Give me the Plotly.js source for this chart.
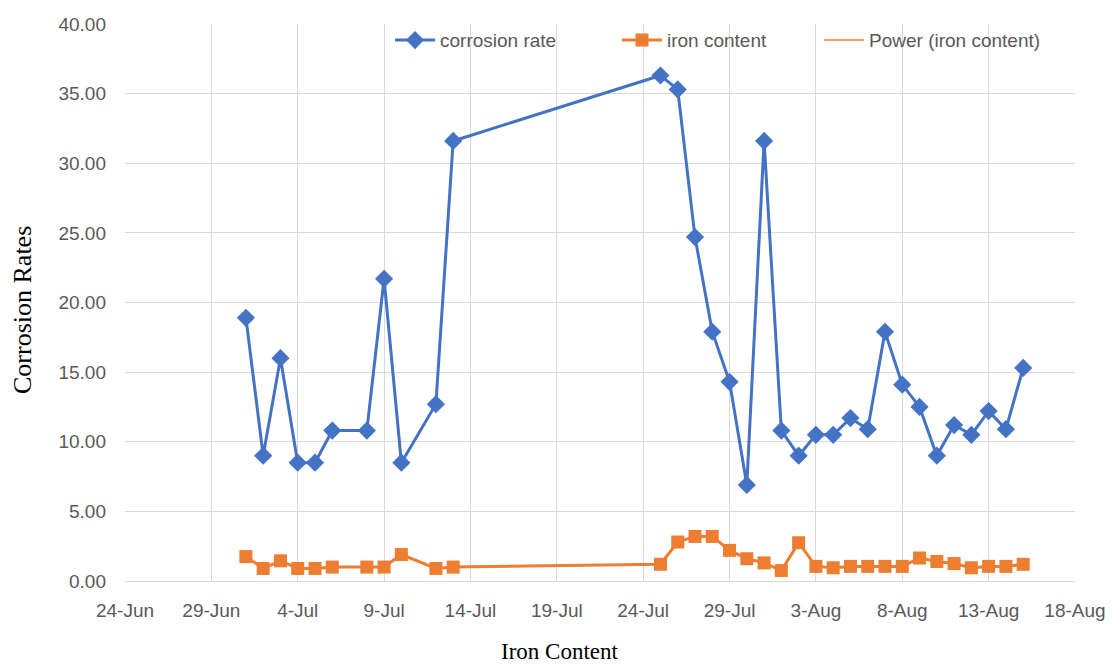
<!DOCTYPE html>
<html>
<head>
<meta charset="utf-8">
<script src="https://cdn.plot.ly/plotly-3.0.1.min.js"></script>
<style>html,body{margin:0;padding:0;background:#fff;}#chart{width:1115px;height:664px;}</style>
</head>
<body>
<div id="chart"></div>
<script>
const corrosionDates = ['2019-07-01','2019-07-02','2019-07-03','2019-07-04','2019-07-05','2019-07-06','2019-07-08','2019-07-09','2019-07-10','2019-07-12','2019-07-13','2019-07-25','2019-07-26','2019-07-27','2019-07-28','2019-07-29','2019-07-30','2019-07-31','2019-08-01','2019-08-02','2019-08-03','2019-08-04','2019-08-05','2019-08-06','2019-08-07','2019-08-08','2019-08-09','2019-08-10','2019-08-11','2019-08-12','2019-08-13','2019-08-14','2019-08-15'];
const corrosionRate = [18.9,9.0,16.0,8.5,8.5,10.8,10.8,21.7,8.5,12.7,31.6,36.3,35.3,24.7,17.9,14.3,6.9,31.6,10.8,9.0,10.5,10.5,11.7,10.9,17.9,14.1,12.5,9.0,11.2,10.5,12.2,10.9,15.3];
const ironDates = corrosionDates;
const ironContent = [1.75,0.9,1.45,0.9,0.9,1.0,1.0,1.0,1.9,0.9,1.0,1.2,2.8,3.2,3.2,2.2,1.6,1.3,0.75,2.75,1.05,0.95,1.05,1.05,1.05,1.05,1.65,1.4,1.25,0.95,1.05,1.05,1.2];
const seriesNames = ['corrosion rate','iron content','Power (iron content)'];
const xTitle = 'Iron Content';
const yTitle = 'Corrosion Rates';

const blue = '#4472C4', orange = '#ED7D31';
const sans = '"Liberation Sans", Arial, sans-serif';
const serif = '"Liberation Serif", "Times New Roman", serif';
const tickFont = {family:sans, size:19, color:'#595959'};

const traces = [
  {x:corrosionDates, y:corrosionRate, name:seriesNames[0], type:'scatter', mode:'lines+markers', legend:'legend',
   line:{color:blue, width:3}, marker:{symbol:'diamond', size:14, color:blue}},
  {x:ironDates, y:ironContent, name:seriesNames[1], type:'scatter', mode:'lines+markers', legend:'legend2',
   line:{color:orange, width:3}, marker:{symbol:'square', size:13, color:orange}},
  {x:[null], y:[null], name:seriesNames[2], type:'scatter', mode:'lines', legend:'legend3',
   line:{color:orange, width:1.5}}
];

function leg(px) {
  return {orientation:'h', x:(px-125)/950, xanchor:'left', y:1.005, yanchor:'top',
    font:{family:sans, size:19, color:'#595959'}, bgcolor:'rgba(0,0,0,0)', itemwidth:40};
}

const layout = {
  width:1115, height:664,
  margin:{l:125, r:40, t:24, b:83},
  paper_bgcolor:'#fff', plot_bgcolor:'#fff',
  showlegend:true,
  legend:leg(390), legend2:leg(617), legend3:leg(819),
  xaxis:{type:'date', range:['2019-06-24','2019-08-18'], tick0:'2019-06-24', dtick:432000000,
    tickformat:'%-d-%b', showgrid:true, gridcolor:'#d9d9d9', gridwidth:1,
    showline:true, linecolor:'#d9d9d9', linewidth:1, zeroline:false,
    ticks:'', tickfont:tickFont, ticklabelstandoff:12},
  yaxis:{range:[0,40], dtick:5, tickformat:'.2f', showgrid:true, gridcolor:'#d9d9d9', gridwidth:1,
    showline:false, zeroline:false, ticks:'', tickfont:tickFont, ticklabelstandoff:18},
  annotations:[
    {text:xTitle, xref:'paper', yref:'paper', x:(560-125)/950, y:-(651-581)/557, xanchor:'center', yanchor:'middle',
     showarrow:false, font:{family:serif, size:23, color:'#000'}},
    {text:yTitle, xref:'paper', yref:'paper', x:-(125-22)/950, y:(581-310)/557, xanchor:'center', yanchor:'middle',
     showarrow:false, textangle:-90, font:{family:serif, size:26, color:'#000'}}
  ]
};

Plotly.newPlot('chart', traces, layout, {displayModeBar:false, staticPlot:true});
</script>
</body>
</html>
